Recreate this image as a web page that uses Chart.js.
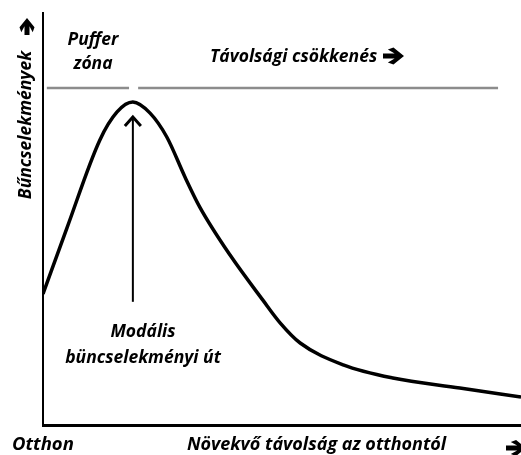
<!DOCTYPE html>
<html lang="hu">
<head>
  <meta charset="UTF-8" />
  <title>Távolsági csökkenés</title>
  <style>
    body { margin: 0; background: #ffffff; }
    #wrap { position: relative; width: 521px; height: 455px; }
  </style>
  <script src="https://cdn.jsdelivr.net/npm/chart.js"></script>
</head>
<body>
  <div id="wrap"><canvas id="chart" width="521" height="455"></canvas></div>
  <script>
    // curve (distance 0..100, crimes 0..100)
    const distance = [0, 5.0, 11.9, 15.5, 18.8, 22.4, 25.9, 29.7, 32.8, 39.1, 46.0, 49.6, 53.8, 62.8, 73.2, 87.2, 100];
    const crimes = [31.8, 47.8, 69.2, 76.0, 78.4, 75.7, 69.9, 60.2, 52.9, 41.3, 30.3, 24.8, 19.9, 14.6, 11.4, 9.0, 6.8];

    // gray zone lines and the modal arrow, in data units
    const bufferLine = [[0.8, 81.8], [18.0, 81.8]];
    const decayLine = [[19.9, 81.8], [95.2, 81.8]];
    const modalArrow = [[18.8, 29.9], [18.8, 75.0]];

    const font = '"Open Sans", sans-serif';

    // heavy arrow pointing right, starting at x, centered on y
    function arrowRight(ctx, x, y, len, h) {
      ctx.save();
      ctx.fillStyle = '#000';
      ctx.beginPath();
      ctx.moveTo(x, y - 2.5);
      ctx.lineTo(x + len - h * 0.55, y - 2.5);
      ctx.lineTo(x + len - h * 0.95, y - h * 0.38);
      ctx.lineTo(x + len - h * 0.62, y - h * 0.5);
      ctx.lineTo(x + len, y);
      ctx.lineTo(x + len - h * 0.62, y + h * 0.5);
      ctx.lineTo(x + len - h * 0.95, y + h * 0.38);
      ctx.lineTo(x + len - h * 0.55, y + 2.5);
      ctx.lineTo(x, y + 2.5);
      ctx.closePath();
      ctx.fill();
      ctx.restore();
    }

    const extras = {
      id: 'extras',
      afterDatasetsDraw(chart) {
        const { ctx, scales: { x, y } } = chart;
        // modal arrow
        const ax = x.getPixelForValue(modalArrow[0][0]);
        const y0 = y.getPixelForValue(modalArrow[0][1]);
        const y1 = y.getPixelForValue(modalArrow[1][1]);
        ctx.save();
        ctx.strokeStyle = '#000';
        ctx.lineWidth = 2;
        ctx.beginPath();
        ctx.moveTo(ax, y0);
        ctx.lineTo(ax, y1);
        ctx.stroke();
        ctx.lineWidth = 3;
        ctx.beginPath();
        ctx.moveTo(ax - 8, y1 + 10);
        ctx.lineTo(ax, y1 + 1);
        ctx.lineTo(ax + 8, y1 + 10);
        ctx.stroke();
        ctx.restore();

        // texts
        ctx.save();
        ctx.fillStyle = '#000';
        ctx.textAlign = 'center';
        ctx.textBaseline = 'middle';
        ctx.font = 'italic bold 17.5px ' + font;
        ctx.fillText('Puffer', 93, 40);
        ctx.fillText('zóna', 93, 64);
        ctx.fillText('Modális', 143, 332);
        ctx.fillText('büncselekményi út', 143, 358);
        ctx.textAlign = 'left';
        ctx.fillText('Távolsági csökkenés', 210, 57);
        arrowRight(ctx, 383, 56, 21, 17);
        ctx.font = 'italic bold 18.5px ' + font;
        ctx.fillText('Otthon', 12, 445);
        ctx.font = 'italic bold 18px ' + font;
        ctx.fillText('Növekvő távolság az otthontól', 187, 445);
        arrowRight(ctx, 506, 448, 20, 16);

        // y title
        ctx.save();
        ctx.translate(26, 125);
        ctx.rotate(-Math.PI / 2);
        ctx.textAlign = 'center';
        ctx.font = 'italic bold 17.5px ' + font;
        ctx.fillText('Bűncselekmények', 0, 0);
        ctx.restore();
        // up arrow
        ctx.save();
        ctx.translate(27, 27);
        ctx.rotate(-Math.PI / 2);
        arrowRight(ctx, -8, 0, 17, 15);
        ctx.restore();
        ctx.restore();
      }
    };

    const lineStyle = { borderColor: '#8c8c8c', borderWidth: 2.5, pointRadius: 0, fill: false };

    new Chart(document.getElementById('chart'), {
      type: 'line',
      data: {
        datasets: [
          {
            data: distance.map((d, i) => ({ x: d, y: crimes[i] })),
            borderColor: '#000',
            borderWidth: 3.5,
            pointRadius: 0,
            cubicInterpolationMode: 'monotone',
            fill: false
          },
          { data: bufferLine.map(p => ({ x: p[0], y: p[1] })), ...lineStyle },
          { data: decayLine.map(p => ({ x: p[0], y: p[1] })), ...lineStyle }
        ]
      },
      options: {
        responsive: false,
        animation: false,
        layout: { padding: { left: 43, top: 13, right: 0, bottom: 30 } },
        plugins: { legend: { display: false }, tooltip: { enabled: false } },
        scales: {
          x: {
            type: 'linear', min: 0, max: 100,
            grid: { display: false, drawTicks: false },
            ticks: { display: false },
            border: { color: '#000', width: 3 }
          },
          y: {
            min: 0, max: 100,
            grid: { display: false, drawTicks: false },
            ticks: { display: false },
            border: { color: '#000', width: 2 }
          }
        }
      },
      plugins: [extras]
    });
  </script>
</body>
</html>
